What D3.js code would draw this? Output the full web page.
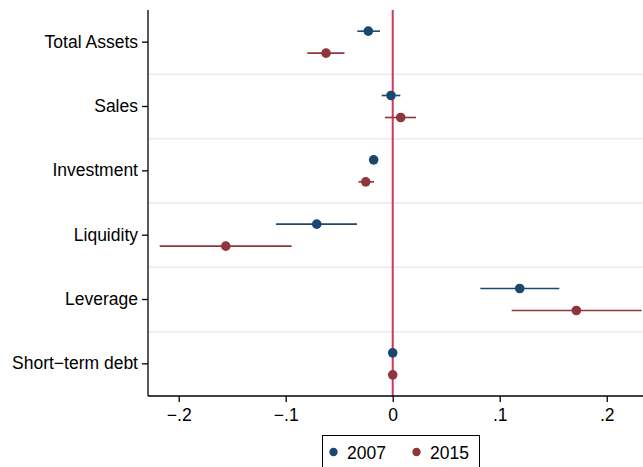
<!DOCTYPE html>
<html>
<head>
<meta charset="utf-8">
<script src="https://cdn.jsdelivr.net/npm/d3@7"></script>
<style>
  html, body { margin: 0; padding: 0; background: #fff; }
  svg { display: block; font-family: "Liberation Sans", Arial, sans-serif; }
</style>
</head>
<body>
<svg id="chart" width="643" height="467"></svg>
<script>
// Coefficient estimates with 95% confidence bounds, by variable and year
const categories = ["Total Assets", "Sales", "Investment", "Liquidity", "Leverage", "Short\u2212term debt"];
const years = ["2007", "2015"];
const est2007 = [-0.0228, -0.0016, -0.0178, -0.0710, 0.1187, 0.0000];
const lo2007  = [-0.0331, -0.0103, -0.0205, -0.1090, 0.0819, -0.0008];
const hi2007  = [-0.0119,  0.0071, -0.0152, -0.0334, 0.1557, 0.0008];
const est2015 = [-0.0623,  0.0075, -0.0252, -0.1560, 0.1716, 0.0000];
const lo2015  = [-0.0798, -0.0072, -0.0321, -0.2178, 0.1112, -0.0008];
const hi2015  = [-0.0451,  0.0218, -0.0175, -0.0944, 0.2327, 0.0008];
const xTicks = [-0.2, -0.1, 0, 0.1, 0.2];
const xTickLabels = ["\u2212.2", "\u2212.1", "0", ".1", ".2"];
const colors = { "2007": "#1a476f", "2015": "#90353b" };
const refColor = "#d1365c";
const fontSize = 17.5;

const svg = d3.select("#chart");
const plotLeft = 148, plotRight = 643, plotTop = 10, plotBottom = 396;

const x = d3.scaleLinear().domain([-0.2287, 0.2339]).range([plotLeft, plotRight]);
const y = d3.scaleBand().domain(categories).range([plotTop, plotBottom]);
const offset = { "2007": -11, "2015": 11 };

const rows = [];
categories.forEach((c, i) => {
  rows.push({ cat: c, year: "2007", est: est2007[i], lo: lo2007[i], hi: hi2007[i] });
  rows.push({ cat: c, year: "2015", est: est2015[i], lo: lo2015[i], hi: hi2015[i] });
});

// Horizontal gridlines between categories
svg.append("g").selectAll("line")
  .data(categories.slice(1))
  .join("line")
  .attr("x1", plotLeft).attr("x2", plotRight)
  .attr("y1", d => y(d)).attr("y2", d => y(d))
  .attr("stroke", "#eaeff1").attr("stroke-width", 2);

// Reference line at zero
svg.append("line")
  .attr("x1", x(0)).attr("x2", x(0))
  .attr("y1", plotTop).attr("y2", plotBottom)
  .attr("stroke", refColor).attr("stroke-width", 2);

// Confidence intervals
svg.append("g").selectAll("line")
  .data(rows)
  .join("line")
  .attr("x1", d => x(d.lo)).attr("x2", d => x(d.hi))
  .attr("y1", d => y(d.cat) + y.bandwidth() / 2 + offset[d.year])
  .attr("y2", d => y(d.cat) + y.bandwidth() / 2 + offset[d.year])
  .attr("stroke", d => colors[d.year]).attr("stroke-width", 1.6);

// Point estimates
svg.append("g").selectAll("circle")
  .data(rows)
  .join("circle")
  .attr("cx", d => x(d.est))
  .attr("cy", d => y(d.cat) + y.bandwidth() / 2 + offset[d.year])
  .attr("r", 4.8)
  .attr("fill", d => colors[d.year]);

// Axes
const yAxis = d3.axisLeft(y).tickSize(6).tickPadding(4);
const gy = svg.append("g").attr("transform", `translate(${plotLeft},0)`).call(yAxis);
gy.select(".domain").attr("d", `M0,${plotTop}V${plotBottom}`).attr("stroke", "#000").attr("stroke-width", 1.3);
gy.selectAll(".tick line").attr("stroke", "#000").attr("stroke-width", 1.3);
gy.selectAll(".tick text").attr("font-size", fontSize).attr("fill", "#000")
  .attr("font-family", "'Liberation Sans', Arial, sans-serif");

const xAxis = d3.axisBottom(x).tickValues(xTicks).tickFormat((d, i) => xTickLabels[i]).tickSize(6).tickPadding(7);
const gx = svg.append("g").attr("transform", `translate(0,${plotBottom})`).call(xAxis);
gx.select(".domain").attr("d", `M${plotLeft},0H${plotRight}`).attr("stroke", "#000").attr("stroke-width", 1.3);
gx.selectAll(".tick line").attr("stroke", "#000").attr("stroke-width", 1.3);
gx.selectAll(".tick text").attr("font-size", fontSize).attr("fill", "#000")
  .attr("font-family", "'Liberation Sans', Arial, sans-serif");

// Legend
const lg = svg.append("g");
lg.append("rect").attr("x", 322.5).attr("y", 435.5).attr("width", 157).attr("height", 40)
  .attr("fill", "#fff").attr("stroke", "#000").attr("stroke-width", 1);
const items = [{ year: "2007", cx: 333.5, tx: 347 }, { year: "2015", cx: 416.5, tx: 430 }];
items.forEach(it => {
  lg.append("circle").attr("cx", it.cx).attr("cy", 452).attr("r", 4.2).attr("fill", colors[it.year]);
  lg.append("text").attr("x", it.tx).attr("y", 458.5).attr("font-size", fontSize).attr("fill", "#000").text(it.year);
});
</script>
</body>
</html>
